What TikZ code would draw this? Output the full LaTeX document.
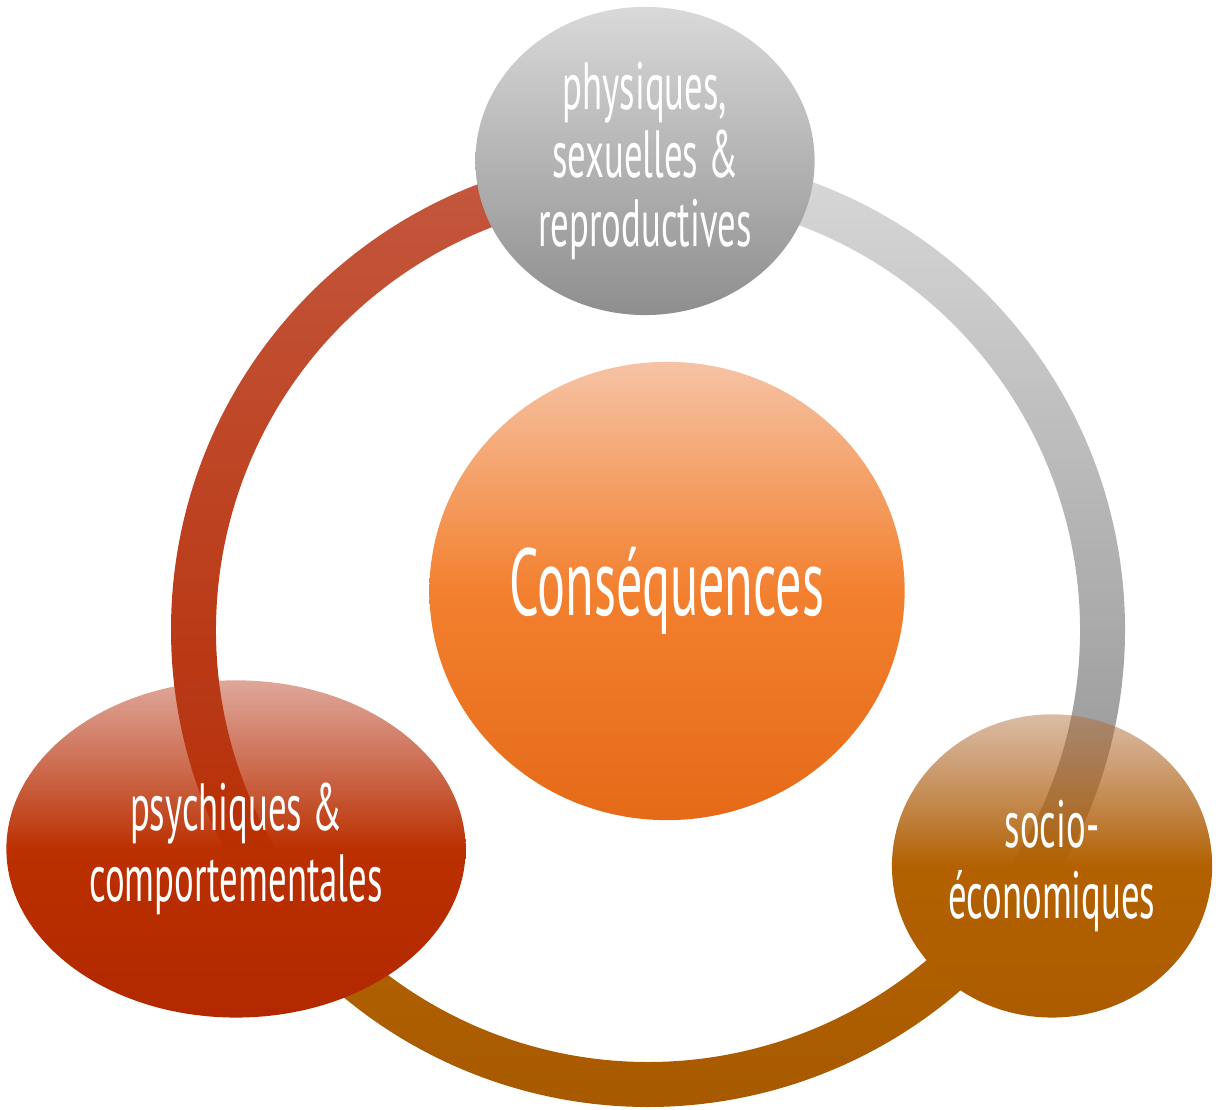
\documentclass[tikz,border=0pt]{standalone}
\usepackage{fontspec}
\setmainfont{PT Sans}[FakeStretch=0.55]
\usetikzlibrary{shapes.geometric,fadings}

\definecolor{redtop}{HTML}{C4583F}
\definecolor{redbot}{HTML}{B52A00}
\definecolor{greytop}{HTML}{D9D9D9}
\definecolor{greybot}{HTML}{8E8E8E}
\definecolor{browntop}{HTML}{B26200}
\definecolor{brownbot}{HTML}{A65800}
\definecolor{constop}{HTML}{F6C3A5}
\definecolor{consmid}{HTML}{F3802F}
\definecolor{consbot}{HTML}{E56A18}
\definecolor{psychtop}{HTML}{B83C1E}
\definecolor{psychmid}{HTML}{BB3000}
\definecolor{psychbot}{HTML}{B22800}
\definecolor{sociotop}{HTML}{AF6A36}
\definecolor{sociomid}{HTML}{B36100}
\definecolor{sociobot}{HTML}{AC5C00}

\tikzfading[name=bubblefade, top color=transparent!55, bottom color=transparent!0, middle color=transparent!0]

\begin{document}
\begin{tikzpicture}[x=0.01cm, y=0.01cm,
	bubble/.style={ellipse, inner sep=0pt, text=white, align=center},
	small/.style={font=\fontsize{19}{20}\selectfont}]
	\useasboundingbox (0,0) rectangle (1216,1110);
	\coordinate (ring) at (648,480);

	% the ring, three pieces
	\shade[top color=redtop, bottom color=redbot]
		([shift={(92:477)}]ring) arc[start angle=92, end angle=215, radius=477]
		-- ([shift={(215:432)}]ring) arc[start angle=215, end angle=92, radius=432] -- cycle;
	\shade[top color=greytop, bottom color=greybot]
		([shift={(88:477)}]ring) arc[start angle=88, end angle=-35, radius=477]
		-- ([shift={(-35:432)}]ring) arc[start angle=-35, end angle=88, radius=432] -- cycle;
	\shade[top color=browntop, bottom color=brownbot]
		([shift={(225:477)}]ring) arc[start angle=225, end angle=320, radius=477]
		-- ([shift={(320:432)}]ring) arc[start angle=320, end angle=225, radius=432] -- cycle;

	% bubbles
	\node[bubble, minimum width=3.39cm, minimum height=3.08cm,
		top color=greytop, bottom color=greybot,
		font=\fontsize{19}{19.5}\selectfont] (phys) at (645,949)
		{physiques,\\sexuelles \&\\reproductives};

	\node[bubble, minimum width=4.75cm, minimum height=4.58cm,
		top color=constop, bottom color=consbot, middle color=consmid,
		font=\fontsize{27}{27}\selectfont] (cons) at (667,519) {Conséquences};

	\node[bubble, small, minimum width=4.59cm, minimum height=3.37cm,
		top color=psychtop, bottom color=psychbot, middle color=psychmid,
		path fading=bubblefade] (psych) at (236,261)
		{psychiques \&\\comportementales};

	\node[bubble, small, minimum width=3.20cm, minimum height=3.03cm,
		top color=sociotop, bottom color=sociobot, middle color=sociomid,
		path fading=bubblefade] (socio) at (1052,244)
		{socio-\\économiques};
\end{tikzpicture}
\end{document}
